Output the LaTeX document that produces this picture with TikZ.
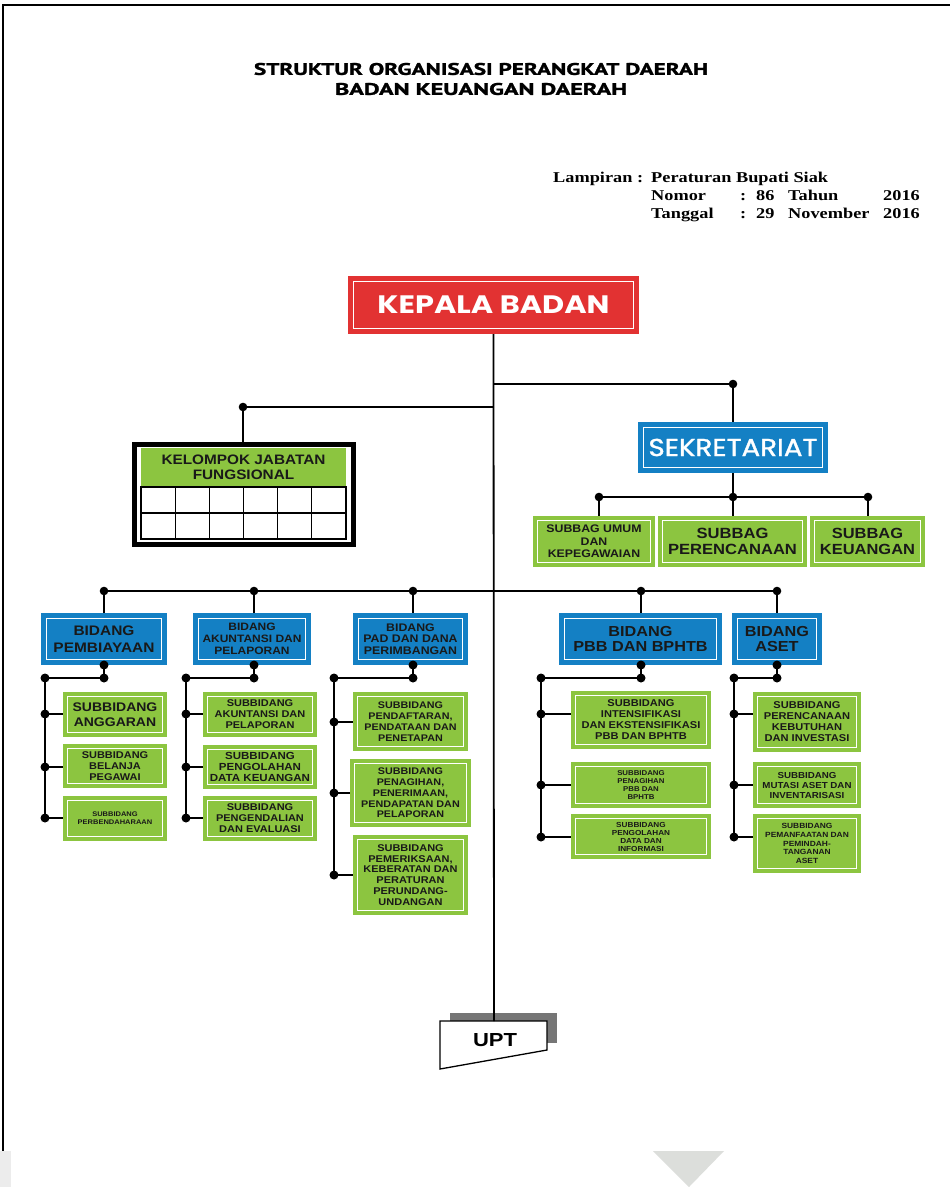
\documentclass[tikz,border=0pt]{standalone}
\usepackage{fontspec}
\usepackage{graphicx}
\newfontfamily\bxf{Liberation Sans Bold}[FakeStretch=1.12]
\newfontfamily\arb{Liberation Sans Bold}
\newfontfamily\popf{Poppins}
\newfontfamily\popm{Poppins}[FakeBold=1.3]
\newfontfamily\ptf{PT Sans}[BoldFeatures={FakeBold=1.2}]
\newfontfamily\serf{Liberation Serif Bold}[FakeStretch=1.22]
\definecolor{kred}{RGB}{226,50,50}
\definecolor{kblue}{RGB}{20,128,196}
\definecolor{kgreen}{RGB}{140,197,64}
\definecolor{ktxt}{RGB}{25,25,25}
\definecolor{kshadow}{RGB}{118,118,118}
\definecolor{ktri}{RGB}{220,222,219}
\newcommand\obox[7]{\node[#1,minimum width={(#4)-(#2)},minimum height={(#5)-(#3)}] (#6) at ({((#2)+(#4))/2},{((#3)+(#5))/2}) {#7};}
\tikzset{
  boxbase/.style={inner sep=0pt, outer sep=0pt, align=center, text=ktxt},
  inset/.style={path picture={\draw[white,line width=1.9pt] ([shift={(#1,#1)}]path picture bounding box.south west) rectangle ([shift={(-#1,-#1)}]path picture bounding box.north east);}},
  fs/.style 2 args={font=\bxf\fontsize{#1}{#2}\selectfont},
  gbox/.style={boxbase, fill=kgreen, inset=4.5pt},
  bbox/.style={boxbase, fill=kblue, inset=5.5pt},
  rbox/.style={boxbase, fill=kred, inset=5.5pt, text=white},
  hbox/.style={boxbase, fill=kgreen},
  conn/.style={line width=1.8pt, black},
  subconn/.style={line width=2.2pt, black},
  dot/.style={fill=black},
  lamp/.style={anchor=base west, inner sep=0pt, font=\serf\fontsize{15}{18}\selectfont}
}
\begin{document}
\begin{tikzpicture}[x=1pt,y=-1pt]
\useasboundingbox (0,0) rectangle (950,1187);
\fill[white] (0,0) rectangle (950,1187);
% page frame and artefacts
\draw[line width=1.5pt] (3,1151) -- (3,5) -- (950,5);
\fill[gray!15] (0,1151) rectangle (11,1187);
\fill[ktri] (653,1151) -- (724,1151) -- (689,1187) -- cycle;

% titles
\node[inner sep=0pt] (t1) at (481,69) {\resizebox{454pt}{12pt}{\ptf\bfseries STRUKTUR ORGANISASI PERANGKAT DAERAH}};
\node[inner sep=0pt] (t2) at (481,89) {\resizebox{292pt}{12pt}{\ptf\bfseries BADAN KEUANGAN DAERAH}};

% lampiran
\node[lamp] (l1) at (553,182) {Lampiran :};
\node[lamp] (l2) at (651,182) {Peraturan Bupati Siak};
\node[lamp] (l3) at (651,200) {Nomor};
\node[lamp] (l4) at (740,200) {:};
\node[lamp] (l5) at (756,200) {86};
\node[lamp] (l6) at (788,200) {Tahun};
\node[lamp,anchor=base east] (l7) at (920,200) {2016};
\node[lamp] (l8) at (651,218) {Tanggal};
\node[lamp] (l9) at (740,218) {:};
\node[lamp] (l10) at (756,218) {29};
\node[lamp] (l11) at (788,218) {November};
\node[lamp,anchor=base east] (l12) at (920,218) {2016};

% main boxes
\obox{rbox}{348}{276}{639}{334}{kb}{\resizebox{232pt}{17.7pt}{\popf\bfseries KEPALA BADAN}}
\obox{bbox,text=white}{638}{422}{828}{473}{sek}{\resizebox{169pt}{17.3pt}{\popm SEKRETARIAT}}

% kelompok jabatan fungsional
\node[draw=black, line width=5pt, minimum width=219, minimum height=100, inner sep=0pt] (kjf) at (244,494.5) {};
\obox{hbox,fs={13.7}{15}}{141}{448}{346}{487}{kjfh}{KELOMPOK JABATAN\\FUNGSIONAL}
\draw[line width=1.3pt] (141,487) rectangle (346,539);
\draw[line width=1.3pt] (141,513) -- (346,513);
\foreach \gx in {175.2,209.3,243.5,277.7,311.8}{\draw[line width=1.3pt] (\gx,487) -- (\gx,539);}

% subbag
\obox{gbox,fs={11}{12.5}}{533}{516}{655}{567}{sb1}{SUBBAG UMUM\\DAN\\KEPEGAWAIAN}
\obox{gbox,fs={14.8}{16}}{658}{516}{807}{567}{sb2}{SUBBAG\\PERENCANAAN}
\obox{gbox,fs={14.7}{16}}{810}{516}{925}{567}{sb3}{SUBBAG\\KEUANGAN}

% bidang
\obox{bbox,fs={13.8}{16.7}}{41}{613}{167}{665}{b1}{BIDANG\\PEMBIAYAAN}
\obox{bbox,fs={10.7}{11.7}}{193}{613}{311}{665}{b2}{BIDANG\\AKUNTANSI DAN\\PELAPORAN}
\obox{bbox,fs={11}{11.7}}{353}{613}{468}{665}{b3}{BIDANG\\PAD DAN DANA\\PERIMBANGAN}
\obox{bbox,fs={14.5}{15.7}}{559}{613}{722}{665}{b4}{BIDANG\\PBB DAN BPHTB}
\obox{bbox,fs={14.5}{15.7}}{732}{613}{822}{665}{b5}{BIDANG\\ASET}

% subbidang col 1
\obox{gbox,fs={12.5}{15}}{63}{692}{167}{737}{s11}{SUBBIDANG\\ANGGARAN}
\obox{gbox,fs={9.8}{11}}{63}{744}{167}{788}{s12}{SUBBIDANG\\BELANJA\\PEGAWAI}
\obox{gbox,fs={6.7}{8}}{63}{796}{167}{841}{s13}{SUBBIDANG\\PERBENDAHARAAN}
% col 2
\obox{gbox,fs={9.8}{11}}{203}{692}{317}{737}{s21}{SUBBIDANG\\AKUNTANSI DAN\\PELAPORAN}
\obox{gbox,fs={10.3}{11}}{203}{745}{317}{789}{s22}{SUBBIDANG\\PENGOLAHAN\\DATA KEUANGAN}
\obox{gbox,fs={9.8}{11}}{203}{796}{317}{841}{s23}{SUBBIDANG\\PENGENDALIAN\\DAN EVALUASI}
% col 3
\obox{gbox,fs={9.6}{11}}{353}{692}{468}{751}{s31}{SUBBIDANG\\PENDAFTARAN,\\PENDATAAN DAN\\PENETAPAN}
\obox{gbox,fs={9.6}{10.8}}{350}{759}{471}{827}{s32}{SUBBIDANG\\PENAGIHAN,\\PENERIMAAN,\\PENDAPATAN DAN\\PELAPORAN}
\obox{gbox,fs={9.8}{10.9}}{353}{835}{468}{915}{s33}{SUBBIDANG\\PEMERIKSAAN,\\KEBERATAN DAN\\PERATURAN\\PERUNDANG-\\UNDANGAN}
% col 4
\obox{gbox,fs={9.9}{11}}{571}{691}{711}{749}{s41}{SUBBIDANG\\INTENSIFIKASI\\DAN EKSTENSIFIKASI\\PBB DAN BPHTB}
\obox{gbox,fs={7}{8}}{571}{762}{711}{808}{s42}{SUBBIDANG\\PENAGIHAN\\PBB DAN\\BPHTB}
\obox{gbox,fs={7.3}{8}}{571}{814}{711}{859}{s43}{SUBBIDANG\\PENGOLAHAN\\DATA DAN\\INFORMASI}
% col 5
\obox{gbox,fs={9.9}{11}}{753}{692}{861}{752}{s51}{SUBBIDANG\\PERENCANAAN\\KEBUTUHAN\\DAN INVESTASI}
\obox{gbox,fs={8.7}{10}}{753}{762}{861}{808}{s52}{SUBBIDANG\\MUTASI ASET DAN\\INVENTARISASI}
\obox{gbox,fs={7.5}{8.7}}{753}{814}{861}{873}{s53}{SUBBIDANG\\PEMANFAATAN DAN\\PEMINDAH-\\TANGANAN\\ASET}

% UPT
\fill[kshadow] (450,1013) rectangle (557,1043);
\filldraw[fill=white, draw=black, line width=1.3pt] (440,1021) -- (547,1021) -- (547,1050) -- (440,1069) -- cycle;
\node[inner sep=0pt] (upt) at (495,1040) {\resizebox{44pt}{13pt}{\arb UPT}};
\coordinate (upttop) at (494,1021);

% main connectors
\coordinate (j1) at (494,384);
\coordinate (j2) at (494,407);
\coordinate (dsek) at (733,384);
\coordinate (dkjf) at (243,407);
\draw[conn] (kb.south) -- (upttop);
\draw[conn] (j1) -- (dsek) -- (dsek |- sek.north);
\draw[conn] (j2) -- (dkjf) -- (dkjf |- kjf.north);
\fill[dot] (dsek) circle (4.3);
\fill[dot] (dkjf) circle (4.3);

% sekretariat connectors
\coordinate (sj) at (733,497);
\coordinate (sa) at (599,497);
\coordinate (sc) at (868,497);
\draw[conn] (sj |- sek.south) -- (sj);
\draw[conn] (sa) -- (sc);
\draw[conn] (sa) -- (sa |- sb1.north);
\draw[conn] (sj) -- (sj |- sb2.north);
\draw[conn] (sc) -- (sc |- sb3.north);
\foreach \p in {sa,sj,sc}{\fill[dot] (\p) circle (4.3);}

% bidang row
\coordinate (r1) at (104,591);
\coordinate (r2) at (254,591);
\coordinate (r3) at (413,591);
\coordinate (r4) at (641,591);
\coordinate (r5) at (777,591);
\draw[conn] (r1) -- (r5);
\foreach \i in {1,...,5}{
  \draw[conn] (r\i) -- (r\i |- b\i.north);
  \fill[dot] (r\i) circle (4.3);
}

% columns below bidang
% col 1
\coordinate (t1) at (104,665); \coordinate (u1) at (104,678); \coordinate (v1) at (45,678);
\coordinate (w11) at (45,714); \coordinate (w12) at (45,767); \coordinate (w13) at (45,818);
% col 2
\coordinate (t2) at (254,665); \coordinate (u2) at (254,678); \coordinate (v2) at (186,678);
\coordinate (w21) at (186,714); \coordinate (w22) at (186,767); \coordinate (w23) at (186,818);
% col 3
\coordinate (t3) at (413,665); \coordinate (u3) at (413,678); \coordinate (v3) at (334,678);
\coordinate (w31) at (334,722); \coordinate (w32) at (334,793); \coordinate (w33) at (334,875);
% col 4
\coordinate (t4) at (641,665); \coordinate (u4) at (641,678); \coordinate (v4) at (541,678);
\coordinate (w41) at (541,714); \coordinate (w42) at (541,785); \coordinate (w43) at (541,837);
% col 5
\coordinate (t5) at (777,665); \coordinate (u5) at (777,678); \coordinate (v5) at (734,678);
\coordinate (w51) at (734,714); \coordinate (w52) at (734,785); \coordinate (w53) at (734,837);

\foreach \i in {1,...,5}{
  \draw[conn] (t\i) -- (u\i) -- (v\i);
  \draw[subconn] (v\i) -- (w\i3);
  \foreach \k in {1,2,3}{
    \draw[conn] (w\i\k) -- (w\i\k -| s\i\k.west);
    \fill[dot] (w\i\k) circle (4.5);
  }
  \fill[dot] (t\i) circle (4.5);
  \fill[dot] (u\i) circle (4.5);
  \fill[dot] (v\i) circle (4.5);
}
\end{tikzpicture}
\end{document}
